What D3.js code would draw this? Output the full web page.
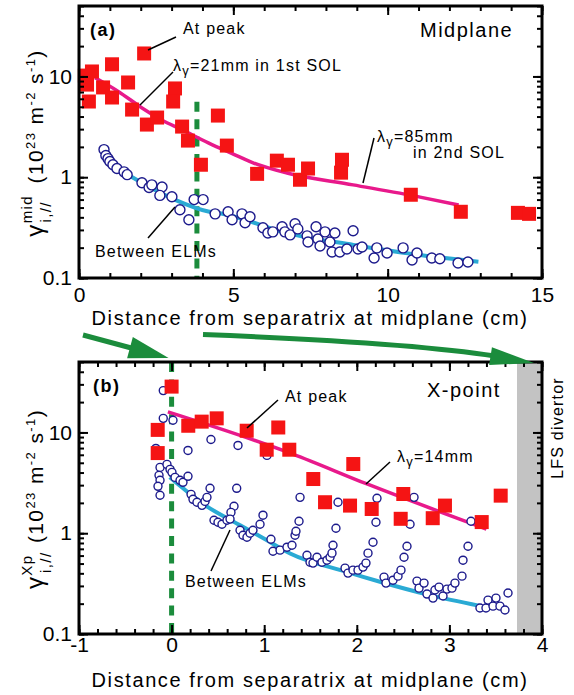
<!DOCTYPE html>
<html>
<head>
<meta charset="utf-8">
<script src="https://cdn.jsdelivr.net/npm/d3@7"></script>
<style>
  body { margin: 0; background: #fff; }
  text { font-family: "Liberation Sans", Arial, Helvetica, sans-serif; fill: #000; }
</style>
</head>
<body>
<svg id="chart" width="574" height="695"></svg>
<script>
// ---- data (a) midplane : [distance cm, gamma 1e23 m-2 s-1]
const midPeak = [[0.19,10.2],[0.26,8.3],[0.42,11.2],[0.32,5.64],[0.78,7.78],[1.07,6.18],[1.07,13.2],
  [1.59,8.71],[2.11,16.9],[1.72,4.69],[2.20,3.33],[2.53,3.91],[3.11,7.6],[3.05,5.64],[3.34,3.18],
  [3.53,2.31],[3.95,1.33],[4.50,4.09],[4.79,2.06],[5.77,1.08],[6.41,1.46],[6.77,1.33],[7.16,0.944],
  [7.42,1.22],[8.52,1.49],[8.49,1.11],[10.75,0.67],[12.37,0.454],[14.22,0.443],[14.58,0.433]];
const midBetween = [[0.81,1.88],[0.87,1.64],[0.94,1.53],[1.00,1.43],[1.10,1.33],[1.23,1.22],[1.46,1.13],
  [1.56,1.06],[2.04,0.88],[2.27,0.79],[2.36,0.84],[2.69,0.80],[2.62,0.66],[3.01,0.64],[3.27,0.475],
  [3.56,0.378],[3.73,0.60],[4.02,0.60],[4.41,0.433],[4.83,0.454],[4.96,0.378],[5.28,0.433],[5.38,0.353],
  [5.54,0.405],[5.96,0.315],[6.12,0.28],[6.28,0.287],[6.58,0.322],[6.67,0.287],[6.84,0.268],[7.00,0.345],
  [7.09,0.307],[7.39,0.262],[7.42,0.228],[7.68,0.322],[7.74,0.244],[7.81,0.208],[7.97,0.287],[8.13,0.228],
  [8.29,0.28],[8.20,0.181],[8.45,0.181],[8.68,0.194],[8.88,0.294],[9.04,0.194],[9.17,0.203],[9.56,0.158],
  [9.65,0.199],[9.98,0.177],[10.50,0.199],[10.79,0.151],[10.95,0.177],[11.43,0.158],[11.69,0.155],
  [12.28,0.141],[12.60,0.144]];
const midPeakFit = [[0.52,9.7],[1.27,7.1],[2.03,4.9],[2.68,3.7],[3.33,2.97],[4.19,2.19],[5.05,1.67],
  [5.64,1.39],[6.74,1.10],[8.88,0.84],[11.05,0.635],[12.3,0.53]];
const midBetweenFit = [[1.6,1.05],[3.11,0.597],[4.19,0.457],[4.57,0.44],[6.73,0.279],[8.89,0.213],
  [11.05,0.169],[12.94,0.145]];
const midSeparatrix = [3.82, 5.6];   // x position, top of dashed line

// ---- data (b) X-point
const xpPeak = [[-0.15,10.6],[-0.15,6.24],[0.00,28.5],[0.18,11.65],[0.325,12.8],[0.487,13.8],[0.811,10.4],
  [1.027,6.74],[1.152,11.2],[1.271,6.74],[1.53,3.45],[1.657,2.03],[1.962,4.86],[1.927,1.88],[2.161,1.74],
  [2.502,2.45],[2.474,1.39],[2.82,1.41],[2.952,1.88],[3.349,1.29],[3.554,2.36]];
const xpBetween = [[-0.09,26.0],[-0.09,13.8],[0.015,13.2],[-0.17,6.94],[-0.125,4.50],[-0.136,3.75],
  [-0.125,3.35],[-0.147,2.92],[-0.125,2.38],[-0.05,4.82],[-0.017,4.30],[0.004,4.02],[0.037,3.58],
  [0.091,3.35],[0.123,3.20],[0.177,3.67],[0.177,6.63],
  [0.425,8.52],[0.717,7.43],[0.21,2.43],[0.231,2.17],[0.274,2.03],[0.328,1.89],[0.361,2.07],[0.382,2.27],[0.415,2.79],
  [0.703,2.79],[0.674,1.85],[0.641,1.61],[0.458,1.345],[0.501,1.285],[0.544,1.228],[0.598,1.345],[0.631,1.38],
  [0.739,1.07],[0.771,0.955],[0.814,0.913],[0.847,1.00],[0.879,1.07],[0.955,1.228],[0.987,1.51],[1.03,5.92],
  [1.073,0.872],[1.095,0.663],[1.171,0.679],[1.246,0.727],[1.30,0.76],[1.333,0.955],[1.343,1.047],[1.376,1.315],[1.387,2.27],
  [1.462,0.605],[1.495,0.516],[1.527,0.505],[1.57,0.578],[1.624,0.516],[1.678,0.54],[1.711,0.578],[1.732,0.634],
  [1.743,0.76],[1.775,1.12],[1.797,2.03],
  [1.873,0.45],[1.905,0.402],[1.959,0.43],[2.013,0.43],[2.067,0.461],[2.099,0.505],[2.121,0.634],[2.175,0.814],
  [2.207,1.285],[2.218,2.22],
  [2.294,0.367],[2.315,0.32],[2.391,0.342],[2.445,0.375],[2.477,0.43],[2.51,0.578],[2.542,0.743],[2.575,1.228],[2.618,2.27],
  [2.65,0.335],[2.672,0.285],[2.726,0.32],[2.758,0.249],[2.823,0.227],[2.844,0.273],[2.888,0.292],[2.931,0.238],
  [2.974,0.279],[3.028,0.285],[3.06,0.32],[3.136,0.375],[3.147,0.54],[3.201,0.743],[3.233,1.315],
  [3.33,0.181],[3.395,0.181],[3.417,0.217],[3.471,0.189],[3.503,0.227],[3.546,0.189],[3.60,0.173],[3.633,0.255]];
const xpPeakFit = [[-0.04,16.0],[1.31,6.1],[2.11,3.08],[3.40,1.1]];
const xpBetweenFit = [[-0.02,3.6],[0.38,1.85],[0.74,1.2],[1.03,0.85],[1.28,0.63],[1.89,0.414],[2.25,0.33],
  [2.79,0.243],[3.33,0.19]];
const xpSeparatrix = [0, 50];
const divertorStart = 3.73;

// ---- tick values
const yMajor = [0.1, 1, 10];
const midXMajor = [0, 5, 10, 15];
const midXMinor = d3.range(0, 15.01, 1);
const xpXMajor = [-1, 0, 1, 2, 3, 4];
const xpXMinor = d3.range(-1, 4.01, 0.2);

const C = {
  red: "#f51414", pink: "#e8198b", cyan: "#2aaad4", navy: "#1c1a8c",
  green: "#1b8c3c", gray: "#c3c3c3"
};

const svg = d3.select("#chart");

const xA = d3.scaleLinear().domain([0, 15]).range([79, 542]);
const yA = d3.scaleLog().domain([0.1, 50]).range([278, 6]);
const xB = d3.scaleLinear().domain([-1, 4]).range([79, 542]);
const yB = d3.scaleLog().domain([0.1, 50]).range([634, 362]);

function drawAxes(x, y, xMinor, xMajor, xPad) {
  const g = svg.append("g");
  const [l, r] = x.range(), [b, t] = y.range();
  const yMinor = y.ticks();
  const fmt = d => String(d);
  const ax = [
    [d3.axisBottom(x).tickValues(xMinor).tickSize(-5).tickFormat(""), `translate(0,${b})`],
    [d3.axisBottom(x).tickValues(xMajor).tickSize(-9).tickPadding(xPad).tickFormat(fmt), `translate(0,${b})`],
    [d3.axisTop(x).tickValues(xMinor).tickSize(-5).tickFormat(""), `translate(0,${t})`],
    [d3.axisTop(x).tickValues(xMajor).tickSize(-9).tickFormat(""), `translate(0,${t})`],
    [d3.axisLeft(y).tickValues(yMinor).tickSize(-5).tickFormat(""), `translate(${l},0)`],
    [d3.axisLeft(y).tickValues(yMajor).tickSize(-9).tickPadding(7).tickFormat(fmt), `translate(${l},0)`],
    [d3.axisRight(y).tickValues(yMinor).tickSize(-5).tickFormat(""), `translate(${r},0)`],
    [d3.axisRight(y).tickValues(yMajor).tickSize(-9).tickFormat(""), `translate(${r},0)`]
  ];
  ax.forEach(([a, tr]) => {
    const s = g.append("g").attr("transform", tr).call(a);
    s.select(".domain").remove();
    s.selectAll(".tick line").attr("stroke", "#000").attr("stroke-width", 2);
    s.selectAll(".tick text").attr("font-size", 21).attr("fill", "#000")
      .attr("font-family", '"Liberation Sans", Arial, sans-serif');
  });
  g.append("rect").attr("x", l).attr("y", t).attr("width", r - l).attr("height", b - t)
    .attr("fill", "none").attr("stroke", "#000").attr("stroke-width", 3);
}

function drawData(x, y, peak, between, peakFit, betweenFit, sep, r) {
  const g = svg.append("g");
  const line = d3.line().x(d => x(d[0])).y(d => y(d[1])).curve(d3.curveMonotoneX);
  g.append("line").attr("x1", x(sep[0])).attr("x2", x(sep[0]))
    .attr("y1", y(sep[1])).attr("y2", y.range()[0])
    .attr("stroke", C.green).attr("stroke-width", 5).attr("stroke-dasharray", "10,7.4");
  g.append("path").datum(betweenFit).attr("d", line).attr("fill", "none")
    .attr("stroke", C.cyan).attr("stroke-width", 4);
  g.append("path").datum(peakFit).attr("d", line).attr("fill", "none")
    .attr("stroke", C.pink).attr("stroke-width", 3.5);
  g.selectAll("circle").data(between).enter().append("circle")
    .attr("cx", d => x(d[0])).attr("cy", d => y(d[1])).attr("r", r)
    .attr("fill", "#fff").attr("stroke", C.navy).attr("stroke-width", 1.4);
  g.selectAll("rect").data(peak).enter().append("rect")
    .attr("x", d => x(d[0]) - 7).attr("y", d => y(d[1]) - 7)
    .attr("width", 14).attr("height", 14).attr("fill", C.red);
}

// gray divertor band (panel b)
svg.append("rect").attr("x", xB(divertorStart)).attr("y", yB.range()[1])
  .attr("width", xB(4) - xB(divertorStart)).attr("height", yB.range()[0] - yB.range()[1])
  .attr("fill", C.gray);

drawData(xA, yA, midPeak, midBetween, midPeakFit, midBetweenFit, midSeparatrix, 5);
drawData(xB, yB, xpPeak, xpBetween, xpPeakFit, xpBetweenFit, xpSeparatrix, 4);
drawAxes(xA, yA, midXMinor, midXMajor, 9);
drawAxes(xB, yB, xpXMinor, xpXMajor, 3);

// leader lines
const leaders = [
  [148, 50, 176, 37], [140, 105, 173, 72], [363, 183, 374, 138], [148, 238, 175, 207],
  [247, 428, 278, 400], [366, 484, 390, 462], [211, 571, 230, 530]
];
svg.selectAll(".leader").data(leaders).enter().append("line").attr("class", "leader")
  .attr("x1", d => d[0]).attr("y1", d => d[1]).attr("x2", d => d[2]).attr("y2", d => d[3])
  .attr("stroke", "#000").attr("stroke-width", 1.5);

// texts
function label(x, y, str, size, opts = {}) {
  return svg.append("text").attr("x", x).attr("y", y).attr("font-size", size)
    .attr("letter-spacing", opts.ls ?? 1.2).attr("font-weight", opts.bold ? "bold" : null)
    .text(str);
}
function lambda(x, y, rest) {
  const t = svg.append("text").attr("x", x).attr("y", y).attr("font-size", 16).attr("letter-spacing", 1.2);
  t.append("tspan").text("λ");
  t.append("tspan").attr("font-size", 13).attr("dy", 4).text("γ");
  t.append("tspan").attr("dy", -4).text(rest);
  return t;
}
label(90, 36, "(a)", 18, { bold: true, ls: 1.5 });
label(183, 34, "At peak", 16);
lambda(173, 71, "=21mm in 1st SOL");
label(420, 37, "Midplane", 20, { ls: 1.5 });
lambda(377, 142, "=85mm");
label(413, 158, "in 2nd SOL", 16);
label(95, 257, "Between ELMs", 16);

label(93, 392, "(b)", 18, { bold: true, ls: 1.5 });
label(285, 402, "At peak", 16);
label(427, 397, "X-point", 20, { ls: 1.5 });
lambda(397, 462, "=14mm");
label(185, 587, "Between ELMs", 16);

svg.append("text").attr("transform", "translate(563,428) rotate(-90)").attr("text-anchor", "middle")
  .attr("font-size", 16).attr("letter-spacing", 1.2).text("LFS divertor");

// axis titles
svg.append("text").attr("x", 310).attr("y", 325).attr("text-anchor", "middle")
  .attr("font-size", 20).attr("letter-spacing", 1.6).text("Distance from separatrix at midplane (cm)");
svg.append("text").attr("x", 310).attr("y", 687).attr("text-anchor", "middle")
  .attr("font-size", 20).attr("letter-spacing", 1.6).text("Distance from separatrix at midplane (cm)");

function yTitle(cx, cy, sup) {
  const t = svg.append("text").attr("transform", `translate(${cx},${cy}) rotate(-90)`)
    .attr("text-anchor", "middle").attr("font-size", 21).attr("letter-spacing", 1.4);
  t.append("tspan").attr("font-size", 24).text("γ");
  t.append("tspan").attr("font-size", 15).attr("dy", -11).text(sup);
  const supW = sup.length * 9.2;
  t.append("tspan").attr("font-size", 15).attr("dx", -supW).attr("dy", 19).text("i,//");
  t.append("tspan").attr("dx", Math.max(6, supW - 18 + 8)).attr("dy", -8).text("(10");
  t.append("tspan").attr("font-size", 13).attr("dy", -8).text("23");
  t.append("tspan").attr("dy", 8).text(" m");
  t.append("tspan").attr("font-size", 13).attr("dy", -8).text("-2");
  t.append("tspan").attr("dy", 8).text(" s");
  t.append("tspan").attr("font-size", 13).attr("dy", -8).text("-1");
  t.append("tspan").attr("dy", 8).text(")");
}
yTitle(43, 143, "mid");
yTitle(43, 499, "Xp");

// green arrows between panels
function arrow(pathD, tip, from, len, hw) {
  const dx = tip[0] - from[0], dy = tip[1] - from[1], n = Math.hypot(dx, dy);
  const ux = dx / n, uy = dy / n;
  const bx = tip[0] - ux * len, by = tip[1] - uy * len;
  svg.append("path").attr("d", pathD).attr("fill", "none").attr("stroke", C.green).attr("stroke-width", 5);
  svg.append("path").attr("fill", C.green)
    .attr("d", `M${tip[0]},${tip[1]}L${bx - uy * hw},${by + ux * hw}L${bx + uy * hw},${by - ux * hw}Z`);
}
arrow("M83,335L135,349", [xB(0) - 3, yB.range()[1] - 4], [83, 335], 40, 11);
arrow("M203,334.5Q409,342.5 495,356", [xB(4) - 8, yB.range()[1] + 1], [490, 356], 44, 9);
</script>
</body>
</html>
